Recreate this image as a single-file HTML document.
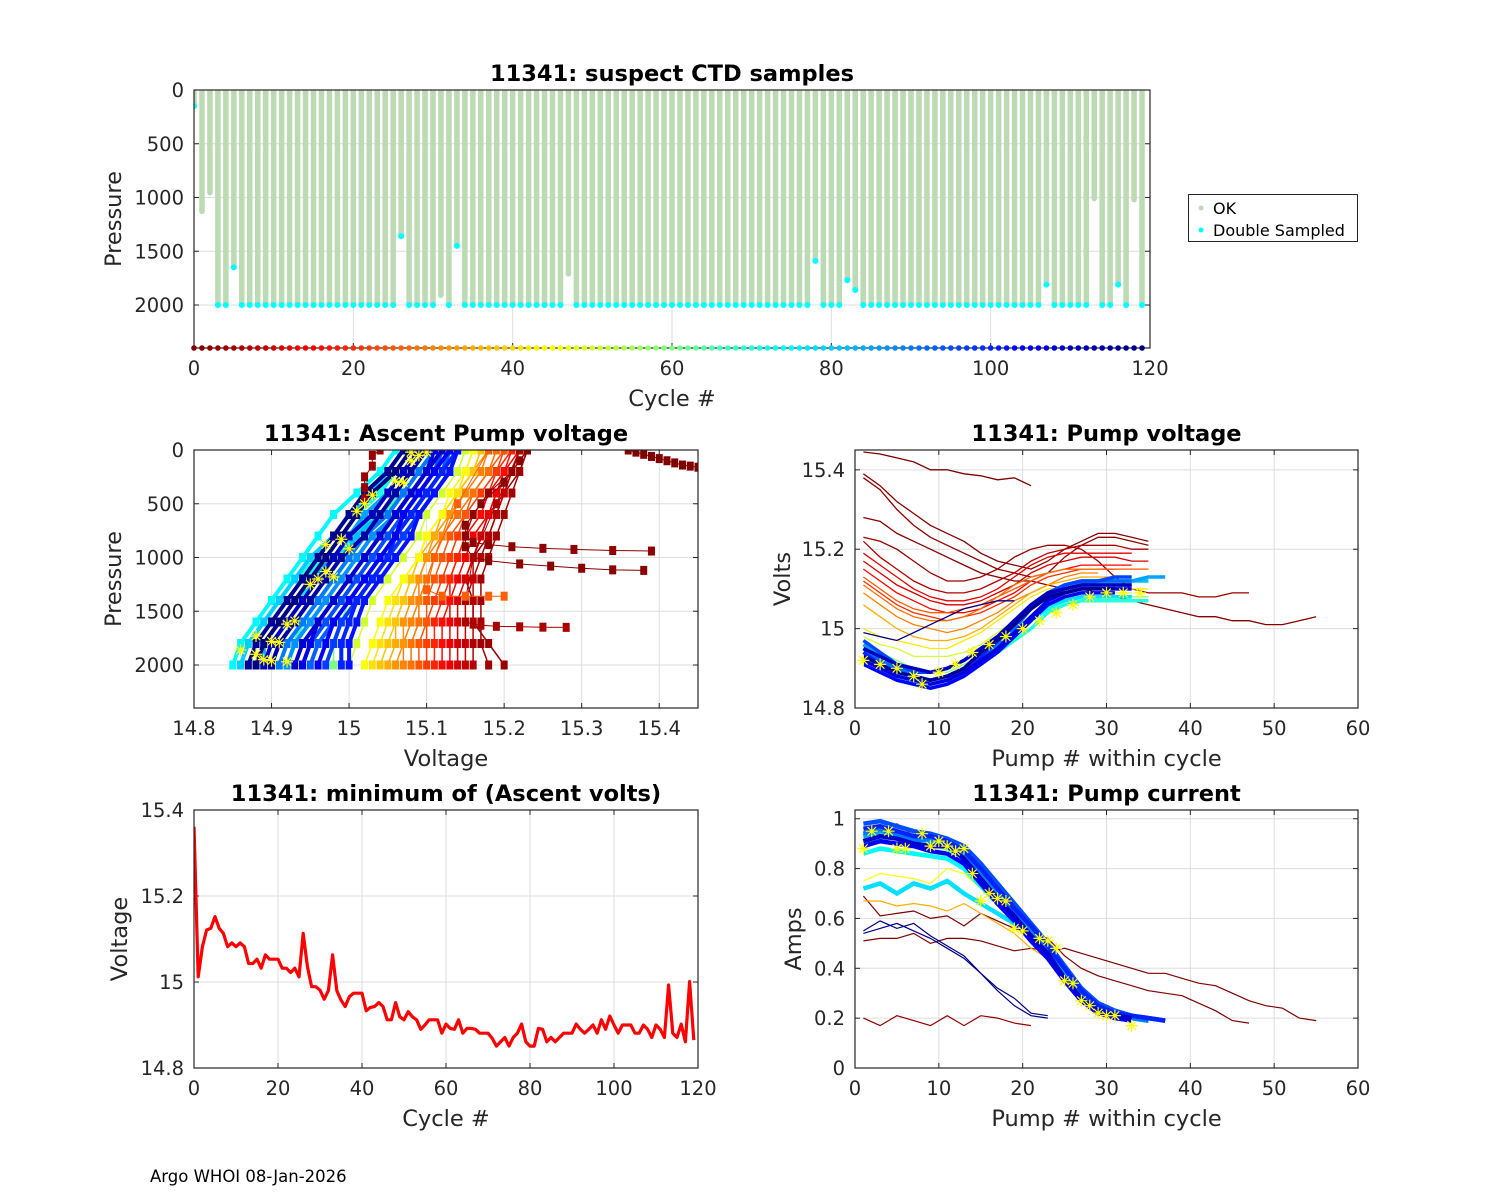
<!DOCTYPE html>
<html><head><meta charset="utf-8"><title>11341 pump diagnostics</title>
<style>
html,body{margin:0;padding:0;background:#fff;}
svg{display:block;font-family:"DejaVu Sans","Liberation Sans",sans-serif;}
</style></head>
<body>
<svg id="c" width="1500" height="1200" viewBox="0 0 1500 1200" xmlns="http://www.w3.org/2000/svg">
<rect x="0" y="0" width="1500" height="1200" fill="#ffffff"/>
<text x="150" y="1182" font-size="16.5" fill="#000">Argo WHOI 08-Jan-2026</text>
</svg>
<script>
// ---------- DATA ----------
const cycles = Array.from({length:120},(_,i)=>i);
const maxPress = [150,1130,955,2000,2000,1650,2000,2000,2000,2000,2000,2000,2000,2000,2000,2000,2000,2000,2000,2000,
2000,2000,2000,2000,2000,2000,1360,2000,2000,2000,2000,1910,2000,1450,2000,2000,2000,2000,2000,2000,
2000,2000,2000,2000,2000,2000,2000,1710,2000,2000,2000,2000,2000,2000,2000,2000,2000,2000,2000,2000,
2000,2000,2000,2000,2000,2000,2000,2000,2000,2000,2000,2000,2000,2000,2000,2000,2000,2000,1590,2000,
2000,2000,1770,1860,2000,2000,2000,2000,2000,2000,2000,2000,2000,2000,2000,2000,2000,2000,2000,2000,
2000,2000,2000,2000,2000,2000,2000,1810,2000,2000,2000,2000,2000,1010,2000,2000,1810,2000,1020,2000];
const dblFlag = [1,0,0,1,1,1,1,1,1,1,1,1,1,1,1,1,1,1,1,1,1,1,1,1,1,1,1,1,1,1,1,0,1,1,1,1,1,1,1,1,
1,1,1,1,1,1,1,0,1,1,1,1,1,1,1,1,1,1,1,1,1,1,1,1,1,1,1,1,1,1,1,1,1,1,1,1,1,1,1,1,
1,1,1,1,1,1,1,1,1,1,1,1,1,1,1,1,1,1,1,1,1,1,1,1,1,1,1,1,1,1,1,1,1,0,1,1,1,1,0,1];
const minVolts = [15.361,15.012,15.082,15.121,15.125,15.152,15.125,15.113,15.082,15.091,15.082,15.091,15.082,15.043,15.043,15.053,15.032,15.063,15.053,15.053,
15.053,15.032,15.032,15.022,15.032,15.012,15.113,15.036,14.989,14.989,14.981,14.960,14.980,15.063,14.980,14.958,14.943,14.966,14.974,14.974,
14.974,14.933,14.941,14.943,14.952,14.943,14.912,14.912,14.952,14.919,14.912,14.931,14.919,14.912,14.890,14.900,14.912,14.912,14.912,14.881,
14.902,14.892,14.890,14.912,14.881,14.892,14.892,14.890,14.881,14.881,14.881,14.869,14.851,14.861,14.871,14.851,14.871,14.881,14.902,14.861,
14.851,14.851,14.892,14.890,14.861,14.871,14.861,14.871,14.881,14.881,14.881,14.902,14.890,14.881,14.890,14.900,14.881,14.912,14.890,14.921,
14.900,14.881,14.900,14.900,14.900,14.881,14.881,14.900,14.890,14.871,14.900,14.890,14.871,14.993,14.881,14.871,14.902,14.861,15.001,14.865];

const pGrid = [2000,1800,1600,1400,1200,1000,800,600,400,200,0];
const ascCycles = [4,3,6,8,10,13,16,19,22,25,28,30,32,35,38,41,45,50,60,66,70,72,75,77,80,82,85,87,90,93,95,97,100,102,105,107,110,112,115,117,119];
const ascVolts = [
[15.18,15.17,15.17,15.17,15.17,15.18,15.19,15.20,15.21,15.22,15.23],
[15.20,15.18,15.16,15.16,15.15,15.16,15.18,15.19,15.20,15.22,15.23],
[15.16,15.16,15.16,15.16,15.16,15.17,15.18,15.19,15.20,15.21,15.23],
[15.15,15.15,15.15,15.15,15.16,15.16,15.17,15.18,15.20,15.21,15.22],
[15.14,15.14,15.14,15.14,15.15,15.16,15.17,15.18,15.19,15.21,15.22],
[15.13,15.13,15.13,15.13,15.14,15.15,15.16,15.18,15.19,15.20,15.22],
[15.12,15.12,15.12,15.13,15.13,15.14,15.15,15.17,15.18,15.20,15.21],
[15.11,15.11,15.11,15.12,15.13,15.14,15.15,15.16,15.18,15.19,15.21],
[15.10,15.10,15.10,15.11,15.12,15.13,15.14,15.15,15.17,15.19,15.20],
[15.09,15.09,15.10,15.10,15.11,15.12,15.13,15.15,15.16,15.18,15.20],
[15.08,15.08,15.09,15.09,15.10,15.11,15.12,15.14,15.16,15.18,15.19],
[15.07,15.07,15.08,15.09,15.09,15.10,15.12,15.13,15.15,15.17,15.18],
[15.06,15.07,15.07,15.08,15.09,15.10,15.11,15.13,15.14,15.16,15.18],
[15.05,15.06,15.06,15.07,15.08,15.09,15.11,15.12,15.14,15.16,15.17],
[15.04,15.05,15.06,15.07,15.08,15.09,15.10,15.12,15.14,15.16,15.17],
[15.03,15.04,15.05,15.06,15.07,15.09,15.10,15.12,15.14,15.15,15.16],
[15.02,15.03,15.04,15.05,15.07,15.09,15.10,15.12,15.13,15.15,15.16],
[15.00,15.01,15.02,15.03,15.05,15.07,15.09,15.10,15.12,15.14,15.15],
[14.98,14.98,14.99,15.00,15.02,15.04,15.06,15.08,15.10,15.12,15.14],
[14.92,14.93,14.94,14.96,14.98,15.00,15.02,15.04,15.07,15.09,15.11],
[14.86,14.87,14.89,14.91,14.93,14.96,14.98,15.00,15.02,15.05,15.07],
[14.87,14.88,14.90,14.92,14.94,14.97,14.99,15.01,15.04,15.06,15.08],
[14.85,14.86,14.88,14.90,14.92,14.94,14.96,14.98,15.01,15.04,15.06],
[14.88,14.89,14.91,14.93,14.96,14.98,15.01,15.03,15.05,15.07,15.09],
[14.86,14.87,14.89,14.91,14.93,14.95,14.98,15.00,15.03,15.05,15.07],
[14.90,14.91,14.93,14.95,14.97,14.99,15.01,15.04,15.06,15.08,15.10],
[14.89,14.89,14.91,14.93,14.95,14.98,15.00,15.02,15.05,15.07,15.09],
[14.92,14.93,14.95,14.97,14.99,15.01,15.03,15.06,15.08,15.10,15.12],
[14.91,14.92,14.94,14.96,14.98,15.00,15.02,15.05,15.07,15.09,15.11],
[14.95,14.96,14.98,15.00,15.02,15.04,15.06,15.08,15.10,15.12,15.13],
[14.94,14.95,14.97,14.99,15.01,15.03,15.05,15.07,15.09,15.11,15.12],
[14.97,14.98,14.99,15.01,15.03,15.05,15.07,15.09,15.11,15.13,15.14],
[14.99,14.99,15.00,15.01,15.03,15.05,15.06,15.08,15.10,15.12,15.14],
[15.00,15.00,15.01,15.02,15.04,15.06,15.08,15.09,15.11,15.13,15.14],
[14.96,14.97,14.98,15.00,15.02,15.04,15.06,15.07,15.09,15.11,15.13],
[14.94,14.95,14.96,14.98,15.00,15.02,15.04,15.06,15.08,15.10,15.11],
[14.93,14.94,14.96,14.98,15.00,15.02,15.04,15.06,15.08,15.10,15.12],
[14.89,14.90,14.92,14.94,14.96,14.98,15.00,15.03,15.05,15.07,15.09],
[14.90,14.91,14.93,14.95,14.97,14.99,15.02,15.04,15.06,15.08,15.10],
[14.87,14.88,14.90,14.92,14.94,14.96,14.98,15.00,15.02,15.05,15.07],
[14.88,14.89,14.91,14.93,14.95,14.97,14.99,15.01,15.03,15.06,15.08]];
const oddCycles = [0,1,2,5,26,3];
const oddPress = [
[0,20,40,60,80,100,120,140,150,160],
[1120,1115,1100,1080,1060,1030,1000,900,700,500,300,100,0],
[940,935,925,915,900,880,860,800,600,400,200,0],
[1650,1648,1645,1640,1630,1620,1600,1400,1000,500,0],
[1360,1360,1360,1360,1300,1000,500,0],
[450,350,250,150,50,0]];
const oddVolts = [
[15.36,15.37,15.38,15.39,15.40,15.41,15.42,15.43,15.44,15.45],
[15.38,15.34,15.30,15.26,15.22,15.18,15.16,15.15,15.15,15.17,15.20,15.22,15.23],
[15.39,15.34,15.29,15.25,15.21,15.18,15.16,15.15,15.16,15.18,15.21,15.22],
[15.28,15.25,15.22,15.19,15.17,15.16,15.15,15.15,15.16,15.19,15.22],
[15.20,15.18,15.15,15.12,15.10,15.11,15.14,15.18],
[15.02,15.02,15.02,15.03,15.03,15.04]];
const ascStarV = [14.86,14.88,14.89,14.90,14.92,14.88,14.90,14.91,14.92,14.93,14.95,14.96,14.97,14.98,14.97,14.99,15.00,15.01,15.02,15.03,15.06,15.07,15.08,15.09,15.10,15.08];
const ascStarP = [1860,1900,1950,1960,1970,1730,1780,1790,1620,1590,1250,1200,1130,1180,880,830,920,570,500,420,290,300,100,50,20,20];

const pvCycles = [0,1,2,1,3,6,10,12,15,20,25,28,30,35,42,50,60,70,74,78,82,85,92,96,100,104,108,112,116,118];
const pvVolts = [
[15.445,15.44,15.43,15.42,15.40,15.40,15.39,15.385,15.375,15.38,15.36],
[15.39,15.36,15.32,15.29,15.26,15.24,15.22,15.19,15.17,15.16,15.15,15.17,15.20,15.22,15.24,15.24,15.23,15.22],
[15.38,15.35,15.30,15.26,15.23,15.21,15.19,15.17,15.15,15.14,15.13,15.14,15.18,15.21,15.23,15.23,15.22,15.21],
[15.28,15.27,15.24,15.22,15.20,15.18,15.16,15.14,15.13,15.12,15.12,15.11,15.10,15.10,15.09,15.08,15.07,15.06,15.05,15.04,15.03,15.03,15.02,15.02,15.01,15.01,15.02,15.03],
[15.23,15.22,15.20,15.17,15.14,15.12,15.12,15.13,15.15,15.18,15.20,15.21,15.21,15.20,15.17,15.13,15.10,15.09,15.09,15.09,15.08,15.08,15.09,15.09],
[15.22,15.18,15.15,15.12,15.10,15.09,15.09,15.10,15.12,15.14,15.17,15.19,15.20,15.21,15.21,15.21,15.20,15.20],
[15.17,15.14,15.11,15.09,15.07,15.06,15.06,15.07,15.09,15.11,15.14,15.16,15.17,15.18,15.18,15.18,15.17,15.17],
[15.19,15.16,15.13,15.10,15.08,15.07,15.07,15.08,15.10,15.13,15.16,15.18,15.19,15.19,15.19,15.19,15.19],
[15.15,15.12,15.09,15.07,15.05,15.04,15.04,15.05,15.07,15.09,15.12,15.14,15.15,15.16,15.16,15.16,15.16],
[15.12,15.09,15.06,15.04,15.03,15.02,15.03,15.04,15.06,15.08,15.11,15.13,15.14,15.15,15.15,15.15],
[15.13,15.10,15.07,15.05,15.04,15.04,15.05,15.06,15.08,15.10,15.12,15.14,15.15,15.15,15.15,15.15,15.15,15.15],
[15.11,15.08,15.05,15.03,15.02,15.02,15.03,15.05,15.08,15.11,15.13,15.14,15.15,15.15,15.15],
[15.09,15.06,15.03,15.01,15.00,14.99,15.00,15.02,15.04,15.07,15.09,15.11,15.13,15.14,15.14],
[15.06,15.03,15.00,14.98,14.97,14.97,14.98,15.00,15.03,15.06,15.09,15.11,15.12,15.13,15.13,15.13],
[15.00,14.98,14.97,14.96,14.95,14.95,14.97,14.99,15.02,15.05,15.08,15.10,15.10,15.10,15.10,15.10,15.10,15.10],
[14.98,14.96,14.95,14.93,14.93,14.93,14.94,14.96,14.99,15.02,15.05,15.08,15.09,15.09,15.09,15.09,15.09],
[14.97,14.94,14.92,14.90,14.89,14.89,14.91,14.93,14.96,14.99,15.03,15.07,15.08,15.08,15.08,15.08,15.08,15.08],
[14.94,14.91,14.88,14.86,14.85,14.86,14.88,14.91,14.94,14.97,15.00,15.04,15.06,15.07,15.07,15.07,15.07,15.07],
[14.95,14.92,14.89,14.87,14.86,14.87,14.89,14.92,14.95,14.98,15.02,15.05,15.07,15.08,15.08,15.08,15.08],
[14.93,14.90,14.87,14.86,14.86,14.87,14.89,14.92,14.95,14.99,15.03,15.06,15.07,15.08,15.08,15.08,15.08],
[14.94,14.91,14.88,14.87,14.87,14.88,14.90,14.93,14.97,15.01,15.05,15.09,15.11,15.12,15.12,15.12,15.12,15.12],
[14.96,14.93,14.90,14.88,14.87,14.88,14.90,14.93,14.96,14.99,15.03,15.07,15.10,15.11,15.12,15.12,15.12,15.13,15.13],
[14.95,14.92,14.90,14.88,14.87,14.88,14.90,14.93,14.96,15.00,15.05,15.08,15.11,15.12,15.12,15.12,15.12],
[14.97,14.94,14.91,14.89,14.89,14.90,14.92,14.95,14.98,15.02,15.06,15.09,15.11,15.12,15.12,15.13,15.13],
[14.94,14.91,14.89,14.88,14.87,14.88,14.90,14.93,14.97,15.01,15.05,15.08,15.10,15.11,15.11,15.11,15.11],
[14.91,14.89,14.87,14.86,14.85,14.86,14.88,14.91,14.94,14.98,15.02,15.06,15.08,15.09,15.09,15.09],
[14.92,14.90,14.88,14.87,14.86,14.87,14.89,14.92,14.95,14.99,15.03,15.07,15.09,15.10,15.10,15.10,15.10],
[14.95,14.93,14.91,14.90,14.89,14.90,14.92,14.95,14.98,15.02,15.06,15.09,15.10,15.11,15.11,15.11,15.11],
[14.93,14.91,14.89,14.88,14.87,14.88,14.90,14.94,14.97,15.01,15.05,15.08,15.09,15.10,15.10,15.10],
[14.99,14.98,14.97,14.99,15.01,15.03,15.05,15.06,15.07,15.07]];
const pvStarN = [1,3,5,7,8,10,12,14,16,18,20,22,24,26,28,30,32,34];
const pvStarV = [14.92,14.91,14.90,14.88,14.86,14.89,14.91,14.94,14.96,14.98,15.00,15.02,15.04,15.06,15.08,15.09,15.09,15.09];

const pcCycles = [0,0,2,119,118,20,35,45,60,70,75,78,85,90,95,100,105,110];
const pcAmps = [
[0.51,0.52,0.52,0.54,0.50,0.52,0.52,0.51,0.49,0.47,0.48,0.47,0.48,0.46,0.44,0.42,0.40,0.38,0.38,0.36,0.34,0.33,0.30,0.27,0.25,0.24,0.20,0.19],
[0.69,0.61,0.62,0.63,0.60,0.61,0.57,0.62,0.59,0.56,0.54,0.52,0.45,0.40,0.37,0.35,0.33,0.31,0.30,0.29,0.26,0.23,0.19,0.18],
[0.20,0.17,0.21,0.19,0.17,0.21,0.17,0.21,0.20,0.18,0.17],
[0.55,0.59,0.56,0.58,0.53,0.49,0.45,0.38,0.32,0.28,0.22,0.21],
[0.54,0.56,0.58,0.55,0.52,0.48,0.44,0.38,0.31,0.25,0.21,0.20],
[0.90,0.96,0.98,0.93,0.92,0.90,0.88,0.82,0.74,0.66,0.58,0.50,0.38,0.30,0.25,0.22,0.20],
[0.67,0.67,0.65,0.66,0.65,0.63,0.66,0.62,0.58,0.54,0.48,0.44,0.36,0.28,0.24,0.22,0.20],
[0.75,0.78,0.77,0.76,0.74,0.80,0.78,0.72,0.66,0.60,0.54,0.46,0.38,0.30,0.25,0.22,0.21],
[0.92,0.94,0.93,0.92,0.90,0.89,0.85,0.77,0.71,0.63,0.56,0.50,0.40,0.30,0.25,0.22,0.21],
[0.90,0.92,0.93,0.91,0.90,0.88,0.85,0.78,0.70,0.62,0.55,0.48,0.40,0.32,0.25,0.22,0.21,0.20,0.19],
[0.86,0.88,0.87,0.86,0.85,0.84,0.80,0.73,0.66,0.60,0.53,0.46,0.38,0.29,0.24,0.21,0.20,0.19],
[0.72,0.74,0.70,0.74,0.72,0.75,0.70,0.66,0.62,0.58,0.52,0.46,0.38,0.30,0.25,0.22,0.20,0.19],
[0.93,0.95,0.94,0.92,0.91,0.90,0.86,0.78,0.70,0.63,0.55,0.47,0.37,0.29,0.24,0.22,0.20,0.19],
[0.94,0.96,0.93,0.91,0.92,0.89,0.85,0.79,0.71,0.62,0.54,0.46,0.36,0.28,0.23,0.21,0.20,0.19],
[0.98,0.99,0.97,0.95,0.94,0.92,0.89,0.82,0.74,0.66,0.58,0.50,0.41,0.32,0.26,0.23,0.21,0.20,0.19],
[0.96,0.97,0.95,0.93,0.93,0.91,0.87,0.80,0.72,0.64,0.57,0.49,0.40,0.31,0.25,0.22,0.21,0.20,0.19],
[0.89,0.91,0.90,0.89,0.87,0.86,0.82,0.74,0.66,0.59,0.51,0.44,0.35,0.27,0.22,0.20,0.19],
[0.91,0.93,0.92,0.90,0.89,0.89,0.84,0.76,0.68,0.61,0.53,0.46,0.36,0.28,0.23,0.21,0.20]];
const pcStarN = [1,2,4,5,6,8,9,10,11,12,13,14,15,16,17,18,19,20,22,23,24,25,26,27,28,29,30,31,33];
const pcStarA = [0.88,0.95,0.95,0.88,0.88,0.94,0.89,0.91,0.89,0.87,0.88,0.78,0.67,0.70,0.68,0.67,0.56,0.55,0.52,0.51,0.48,0.35,0.34,0.27,0.25,0.22,0.21,0.21,0.17];

// ---------- HELPERS ----------
const svg = document.getElementById('c');
const NS = 'http://www.w3.org/2000/svg';
function el(tag, attrs, parent){
  const e = document.createElementNS(NS, tag);
  for (const k in attrs) e.setAttribute(k, attrs[k]);
  (parent||svg).appendChild(e);
  return e;
}
function jet(c){
  const t = 1 - c/119;
  const f = v => Math.max(0, Math.min(1, v));
  const r = f(1.5 - Math.abs(4*t-3)), g = f(1.5 - Math.abs(4*t-2)), b = f(1.5 - Math.abs(4*t-1));
  return 'rgb(' + Math.round(r*255) + ',' + Math.round(g*255) + ',' + Math.round(b*255) + ')';
}
let clipN = 0;
function panel(cfg){
  const {x0,x1,y0,y1,xd,yd,rev} = cfg;
  const sx = v => x0 + (v - xd[0]) / (xd[1]-xd[0]) * (x1-x0);
  const sy = rev ? (v => y0 + (v - yd[0])/(yd[1]-yd[0])*(y1-y0)) : (v => y1 - (v - yd[0])/(yd[1]-yd[0])*(y1-y0));
  const g = el('g', {});
  
  
  el('rect', {x:x0, y:y0, width:x1-x0, height:y1-y0, fill:'#fff'}, g);
  cfg.xt.forEach(t => {
    const X = sx(t);
    const gl = el('line', {x1:X, x2:X, y1:y0, y2:y1, stroke:'#dedede', 'stroke-width':1}, g);
    
    
    el('line', {x1:X, x2:X, y1:y1, y2:y1-5, stroke:'#262626'}, g);
    el('line', {x1:X, x2:X, y1:y0, y2:y0+5, stroke:'#262626'}, g);
    const tx = el('text', {x:X, y:y1+27, 'font-size':19.5, fill:'#262626', 'text-anchor':'middle'}, g);
    tx.textContent = String(t);
    
    
  });
  cfg.yt.forEach(t => {
    const Y = sy(t);
    const gl = el('line', {x1:x0, x2:x1, y1:Y, y2:Y, stroke:'#dedede', 'stroke-width':1}, g);
    
    
    el('line', {x1:x0, x2:x0+5, y1:Y, y2:Y, stroke:'#262626'}, g);
    el('line', {x1:x1, x2:x1-5, y1:Y, y2:Y, stroke:'#262626'}, g);
    const tx = el('text', {x:x0-10, y:Y+7, 'font-size':19.5, fill:'#262626', 'text-anchor':'end'}, g);
    tx.textContent = String(t);
    
    
  });
  const id = 'clip' + (clipN++);
  const cp = el('clipPath', {id:id}, g);
  el('rect', {x:x0, y:y0, width:x1-x0, height:y1-y0}, cp);
  const plot = el('g', {'clip-path':'url(#'+id+')'}, g);
  
  
  const title = el('text', {x:(x0+x1)/2, y:y0-9, 'font-size':22.5, 'font-weight':'bold', fill:'#000', 'text-anchor':'middle'}, g);
  title.textContent = cfg.title;
  
  
  const xl = el('text', {x:(x0+x1)/2, y:y1+58, 'font-size':22.5, fill:'#262626', 'text-anchor':'middle'}, g);
  xl.textContent = cfg.xl;
  
  
  const yx = cfg.ylx, yy = (y0+y1)/2;
  const yl = el('text', {x:yx, y:yy, 'font-size':22.5, fill:'#262626', 'text-anchor':'middle', transform:'rotate(-90 '+yx+' '+yy+')'}, g);
  yl.textContent = cfg.yl;
  
  
  return {sx, sy, plot, g, finish(){
    const b = el('rect', {x:x0, y:y0, width:x1-x0, height:y1-y0, fill:'none', stroke:'#262626', 'stroke-width':1.2}, g);
    
    
  }};
}
function star(parent, X, Y){
  const s = 6;
  const p = el('path', {d:'M'+(X-s)+' '+Y+'H'+(X+s)+'M'+X+' '+(Y-s)+'V'+(Y+s)+'M'+(X-4.3)+' '+(Y-4.3)+'L'+(X+4.3)+' '+(Y+4.3)+'M'+(X-4.3)+' '+(Y+4.3)+'L'+(X+4.3)+' '+(Y-4.3), stroke:'#ffff00', 'stroke-width':1.2, fill:'none'}, parent);
  
  
}

// ---------- PANEL 1 ----------
const p1 = panel({name:'suspect-ctd-chart', x0:194, x1:1150, y0:90, y1:348, xd:[0,120], yd:[0,2400], rev:true,
  xt:[0,20,40,60,80,100,120], yt:[0,500,1000,1500,2000], title:'11341: suspect CTD samples', xl:'Cycle #', yl:'Pressure', ylx:121});
cycles.forEach(i => {
  const X = p1.sx(i);
  const bar = el('line', {x1:X, x2:X, y1:p1.sy(0), y2:p1.sy(maxPress[i]), stroke:'#bcdab3', 'stroke-width':5.5, 'stroke-linecap':'round'}, p1.plot);
  
  
});
cycles.forEach(i => {
  if (!dblFlag[i]) return;
  const d = el('circle', {cx:p1.sx(i), cy:p1.sy(maxPress[i]), r:3, fill:'#00ffff'}, p1.plot);
  
  
});
p1.finish();
cycles.forEach(i => {
  const d = el('circle', {cx:p1.sx(i), cy:p1.sy(2400), r:2.8, fill:jet(i)}, p1.g);
  
  
});
const lg = el('g', {});


el('rect', {x:1188.5, y:194.5, width:169, height:47, fill:'#fff', stroke:'#262626', 'stroke-width':1}, lg);
const le1 = el('circle', {cx:1201, cy:208, r:2.5, fill:'#bcdab3'}, lg);


const lt1 = el('text', {x:1213, y:214, 'font-size':16, fill:'#000'}, lg);
lt1.textContent = 'OK';


const le2 = el('circle', {cx:1201, cy:230, r:2.5, fill:'#00ffff'}, lg);


const lt2 = el('text', {x:1213, y:236, 'font-size':16, fill:'#000'}, lg);
lt2.textContent = 'Double Sampled';



// ---------- PANEL 2 ----------
const p2 = panel({name:'ascent-pump-voltage-chart', x0:194, x1:698, y0:450, y1:708, xd:[14.8,15.45], yd:[0,2400], rev:true,
  xt:[14.8,14.9,15,15.1,15.2,15.3,15.4], yt:[0,500,1000,1500,2000], title:'11341: Ascent Pump voltage', xl:'Voltage', yl:'Pressure', ylx:121});
function drawProfile(P, V, c, w){
  const pts = P.map((p,k) => p2.sx(V[k]).toFixed(1)+','+p2.sy(p).toFixed(1)).join(' ');
  const l = el('polyline', {points:pts, fill:'none', stroke:jet(c), 'stroke-width':w}, p2.plot);
  
  
  P.forEach((p,k) => {
    const m = el('rect', {x:p2.sx(V[k])-3.5, y:p2.sy(p)-4.5, width:7, height:9, fill:jet(c)}, p2.plot);
    
    
  });
}
ascCycles.forEach((c,i) => drawProfile(pGrid, ascVolts[i], c, c>62?4:1.5));
oddCycles.forEach((c,i) => drawProfile(oddPress[i], oddVolts[i], c, 1));
ascStarV.forEach((v,k) => star(p2.plot, p2.sx(v), p2.sy(ascStarP[k])));
p2.finish();

// ---------- PANEL 3 ----------
const p3 = panel({name:'pump-voltage-chart', x0:855, x1:1358, y0:450, y1:708, xd:[0,60], yd:[14.8,15.45], rev:false,
  xt:[0,10,20,30,40,50,60], yt:[14.8,15,15.2,15.4], title:'11341: Pump voltage', xl:'Pump # within cycle', yl:'Volts', ylx:790});
pvCycles.forEach((c,i) => {
  const pts = pvVolts[i].map((v,k) => p3.sx(1+2*k).toFixed(1)+','+p3.sy(v).toFixed(1)).join(' ');
  const thick = c>65 && pvVolts[i].length>12;
  const l = el('polyline', {points:pts, fill:'none', stroke:jet(c), 'stroke-width':thick?3.5:1.3}, p3.plot);
  
  
});
pvStarN.forEach((n,k) => star(p3.plot, p3.sx(n), p3.sy(pvStarV[k])));
p3.finish();

// ---------- PANEL 4 ----------
const p4 = panel({name:'minimum-ascent-volts-chart', x0:194, x1:698, y0:810, y1:1068, xd:[0,120], yd:[14.8,15.4], rev:false,
  xt:[0,20,40,60,80,100,120], yt:[14.8,15,15.2,15.4], title:'11341: minimum of (Ascent volts)', xl:'Cycle #', yl:'Voltage', ylx:127});
{
  const pts = minVolts.map((v,i) => p4.sx(cycles[i]).toFixed(1)+','+p4.sy(v).toFixed(1)).join(' ');
  const l = el('polyline', {points:pts, fill:'none', stroke:'#ff0000', 'stroke-width':3.2, 'stroke-linejoin':'round'}, p4.plot);
  
  
}
p4.finish();

// ---------- PANEL 5 ----------
const p5 = panel({name:'pump-current-chart', x0:855, x1:1358, y0:810, y1:1068, xd:[0,60], yd:[0,1.035], rev:false,
  xt:[0,10,20,30,40,50,60], yt:[0,0.2,0.4,0.6,0.8,1], title:'11341: Pump current', xl:'Pump # within cycle', yl:'Amps', ylx:801});
pcCycles.forEach((c,i) => {
  const pts = pcAmps[i].map((v,k) => p5.sx(1+2*k).toFixed(1)+','+p5.sy(v).toFixed(1)).join(' ');
  const thick = c>58 && c<115;
  const l = el('polyline', {points:pts, fill:'none', stroke:jet(c), 'stroke-width':thick?4.5:1.2}, p5.plot);
  
  
});
pcStarN.forEach((n,k) => star(p5.plot, p5.sx(n), p5.sy(pcStarA[k])));
p5.finish();
</script>
</body></html>
